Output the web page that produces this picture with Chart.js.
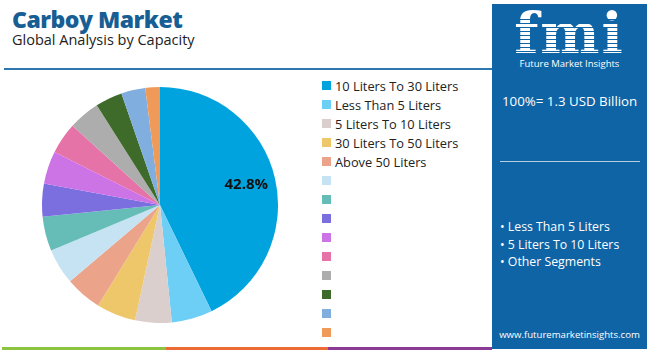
<!DOCTYPE html>
<html>
<head>
<meta charset="utf-8">
<script src="https://cdn.jsdelivr.net/npm/chart.js@4"></script>
<style>
  body { margin: 0; width: 650px; height: 351px; overflow: hidden; background: #fff; font-family: "Open Sans", sans-serif; position: relative; }
  .abs { position: absolute; white-space: nowrap; }
  #title { left: 12px; top: 3px; font-size: 23px; font-weight: 800; color: #175e94; letter-spacing: -0.5px; }
  #subtitle { left: 12px; top: 30px; font-size: 14.5px; color: #222; }
  #rule { left: 4px; top: 68px; width: 488px; height: 2px; background: #2e77b0; }
  #pieBox { left: 42px; top: 87px; width: 236px; height: 236px; }
  #legend { left: 322px; top: 76px; }
  .item { height: 19px; display: flex; align-items: center; font-size: 12.8px; color: #222; }
  .sw { width: 9px; height: 9px; margin-right: 4px; flex: none; }
  #panel { left: 492px; top: 4px; width: 155px; height: 345px; background: #0f64a6; color: #fff; }
  #logo { left: 0; top: 0px; width: 155px; text-align: center; font-family: "DejaVu Serif", serif; font-weight: bold; font-size: 56px; line-height: 58px; letter-spacing: 2px; }
  #stripes { left: 20px; top: 12px; width: 115px; height: 44px;
    background: repeating-linear-gradient(to bottom, transparent 0 3px, #0f64a6 3px 4px); }
  #fmiName { left: 0; top: 53px; width: 155px; text-align: center; font-size: 9.5px; }
  #total { left: 10px; top: 88px; font-size: 13.3px; }
  #sep { left: 8px; top: 157px; width: 140px; height: 1px; background: #b8cfe2; }
  #bullets { left: 8px; top: 214px; font-size: 12.3px; line-height: 17.5px; }
  #url { left: 0; top: 324px; width: 155px; text-align: center; font-size: 9.6px; }
  .bar { top: 347px; height: 3px; }
</style>
</head>
<body>
<div id="title" class="abs">Carboy Market</div>
<div id="subtitle" class="abs">Global Analysis by Capacity</div>
<div id="rule" class="abs"></div>

<div id="pieBox" class="abs"><canvas id="pie" width="236" height="236"></canvas></div>
<div id="legend" class="abs"></div>

<div id="panel" class="abs">
  <div id="logo" class="abs">fmi</div>
  <div id="stripes" class="abs"></div>
  <div id="fmiName" class="abs">Future Market Insights</div>
  <div id="total" class="abs">100%= 1.3 USD Billion</div>
  <div id="sep" class="abs"></div>
  <div id="bullets" class="abs">• Less Than 5 Liters<br>• 5 Liters To 10 Liters<br>• Other Segments</div>
  <div id="url" class="abs">www.futuremarketinsights.com</div>
</div>

<div class="abs bar" style="left:2px;width:164px;background:#8cc440"></div>
<div class="abs bar" style="left:166px;width:162px;background:#ec6a35"></div>
<div class="abs bar" style="left:328px;width:164px;background:#8b3b96"></div>

<script>
// segment names (only the first five are labelled in the source)
const categories = ['10 Liters To 30 Liters', 'Less Than 5 Liters', '5 Liters To 10 Liters',
  '30 Liters To 50 Liters', 'Above 50 Liters', '', '', '', '', '', '', '', '', ''];
const shares = [42.8, 5.6, 5.0, 5.4, 5.0, 4.9, 4.7, 4.5, 4.5, 4.3, 4.3, 3.7, 3.3, 2.0];
const colors = ['#00a3dd', '#6dcff6', '#dacfcc', '#efc76b', '#eba48a', '#c5e3f3', '#66bdb8',
  '#7b6fe0', '#cc73e6', '#e673a8', '#adadad', '#3e6b2a', '#7faedf', '#f09a5a'];

// html legend
const legend = document.getElementById('legend');
categories.forEach((name, i) => {
    const row = document.createElement('div');
    row.className = 'item';
    row.innerHTML = `<span class="sw" style="background:${colors[i]}"></span><span>${name}</span>`;
    legend.appendChild(row);
});

// label only the biggest slice
const bigLabel = {
    id: 'bigLabel',
    afterDatasetsDraw(chart) {
        const arc = chart.getDatasetMeta(0).data[0];
        const mid = (arc.startAngle + arc.endAngle) / 2;
        const r = arc.outerRadius * 0.75;
        const ctx = chart.ctx;
        ctx.save();
        ctx.font = 'bold 15px "Open Sans", sans-serif';
        ctx.fillStyle = '#111';
        ctx.textAlign = 'center';
        ctx.textBaseline = 'middle';
        ctx.fillText(shares[0].toFixed(1) + '%', arc.x + Math.cos(mid) * r, arc.y + Math.sin(mid) * r);
        ctx.restore();
    }
};

new Chart(document.getElementById('pie').getContext('2d'), {
    type: 'pie',
    data: {
        labels: categories,
        datasets: [{
            data: shares,
            backgroundColor: colors,
            borderWidth: 0,
        }],
    },
    options: {
        responsive: false,
        animation: false,
        layout: { padding: 0 },
        plugins: {
            legend: { display: false },
            tooltip: { enabled: false },
        },
    },
    plugins: [bigLabel],
});
</script>
</body>
</html>
